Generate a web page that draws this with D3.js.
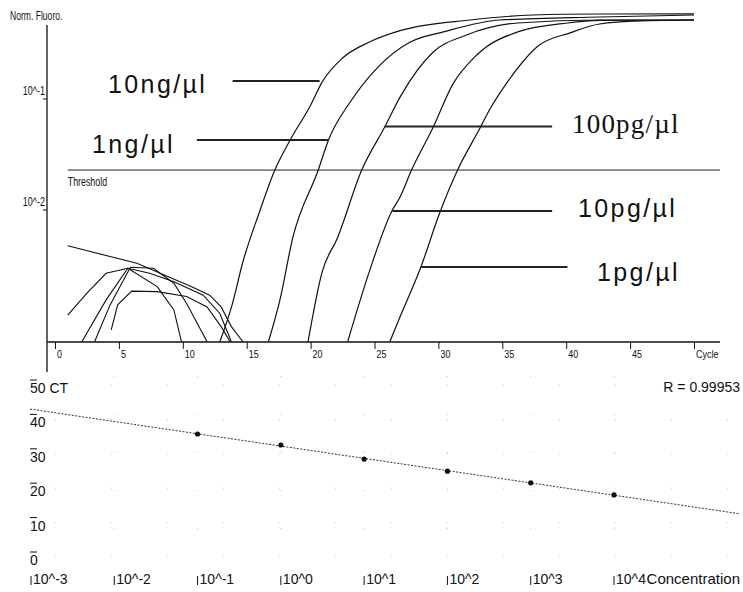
<!DOCTYPE html>
<html>
<head>
<meta charset="utf-8">
<script src="https://cdn.jsdelivr.net/npm/d3@7"></script>
<style>
  body { margin: 0; background: #fff; }
</style>
</head>
<body>
<svg id="chart"></svg>
<script>
// ---- amplification plot data: [cycle, normalised fluorescence] ----
var curve10ng = [[12.9, 0.00065], [13.85, 0.00139], [14.7, 0.0034], [16.0, 0.0096], [17.2, 0.0229],
    [18.4, 0.0427], [20.0, 0.088], [20.9, 0.142], [22.5, 0.234], [24.6, 0.326], [27.2, 0.419],
    [32.5, 0.515], [37.4, 0.571], [42.6, 0.583], [50, 0.585]];
var curve1ng = [[16.7, 0.00065], [17.6, 0.00155], [18.6, 0.0056], [20.6, 0.0229], [21.4, 0.0427],
    [23.1, 0.094], [25.2, 0.190], [27.8, 0.326], [30.4, 0.402], [34.8, 0.515], [42.6, 0.548], [50, 0.571]];
var curve100pg = [[19.8, 0.00065], [20.9, 0.00276], [22.1, 0.0056], [24.0, 0.0229], [25.8, 0.056],
    [27.0, 0.104], [29.6, 0.265], [32.2, 0.377], [36.2, 0.484], [42.6, 0.515], [50, 0.515]];
var curve10pg = [[22.9, 0.00065], [24.6, 0.0028], [26.4, 0.0100], [27.0, 0.0131], [27.9, 0.0229],
    [29.6, 0.056], [31.1, 0.134], [33.0, 0.249], [36.2, 0.402], [40.1, 0.484], [42.6, 0.510], [50, 0.515]];
var curve1pg = [[26.2, 0.00065], [27.0, 0.00109], [28.6, 0.0030], [30.1, 0.0094], [31.5, 0.0229],
    [33.3, 0.056], [34.0, 0.080], [35.4, 0.142], [37.9, 0.306], [40.3, 0.394], [42.6, 0.474],
    [45.8, 0.505], [50, 0.515]];

// early-cycle background traces
var noiseA = [[1.0, 0.00476], [6.4, 0.00331], [10.7, 0.00204], [12.1, 0.00171], [13.0, 0.00134], [13.8, 0.00089], [14.7, 0.00065]];
var noiseB = [[1.0, 0.00113], [2.5, 0.00178], [4.0, 0.00269], [5.7, 0.00299], [7.4, 0.00269], [9.3, 0.00226], [11.6, 0.00171], [12.9, 0.00117], [13.8, 0.00065]];
var noiseC = [[2.1, 0.00065], [4.0, 0.00155], [5.7, 0.00299], [8.0, 0.00204], [9.3, 0.00126], [9.9, 0.00065]];
var noiseD = [[3.1, 0.00065], [4.3, 0.00139], [5.9, 0.00305], [7.7, 0.00299], [9.3, 0.00219], [10.3, 0.00144], [11.9, 0.00065]];
var noiseE = [[4.4, 0.00083], [4.9, 0.00140], [6.0, 0.00186], [8.0, 0.00184], [10.3, 0.00166], [11.9, 0.00134], [13.0, 0.00089], [13.7, 0.00065]];

var curveNames = ['10ng/\u00b5l', '1ng/\u00b5l', '100pg/\u00b5l', '10pg/\u00b5l', '1pg/\u00b5l'];
var threshold = 0.0229;
var cycleTicks = [0, 5, 10, 15, 20, 25, 30, 35, 40, 45, 50];
var fluoroTicks = [0.1, 0.01];
var fluoroTickLabels = ['10^-1', '10^-2'];

// ---- standard curve data ----
var concentrations = [0.1, 1, 10, 100, 1000, 10000];
var ctValues = [34.3, 31.1, 27.0, 23.5, 20.1, 16.6];
var concTicks = [1e-3, 1e-2, 1e-1, 1, 10, 100, 1000, 10000];
var concTickLabels = ['10^-3', '10^-2', '10^-1', '10^0', '10^1', '10^2', '10^3', '10^4'];
var ctTicks = [0, 10, 20, 30, 40, 50];
var rValue = 0.99953;

var svg = d3.select('#chart')
    .attr('width', 743)
    .attr('height', 592)
    .style('background-color', '#fff');

var ink = '#111';
var narrow = 'Liberation Sans, Arial, sans-serif';

// condensed small text like the scanned instrument font
function smallText(g, px, py, txt, size, sx, anchor) {
    return g.append('text')
        .attr('transform', 'translate(' + px + ',' + py + ') scale(' + sx + ',1)')
        .attr('text-anchor', anchor || 'start')
        .style('font-family', narrow)
        .style('font-size', size + 'px')
        .attr('fill', ink)
        .text(txt);
}

// =============== top: amplification plot ===============
var x = d3.scaleLinear().domain([0, 50]).range([55, 694]);
var y = d3.scaleLog().domain([0.01, 0.1]).range([210, 99]);
var baseY = 342;

svg.append('defs').append('clipPath').attr('id', 'plotclip')
    .append('rect').attr('x', 47).attr('y', 0).attr('width', 680).attr('height', baseY);

// axes lines
svg.append('line').attr('x1', 47).attr('x2', 47).attr('y1', 25).attr('y2', 372)
    .attr('stroke', ink).attr('stroke-width', 1.3);
svg.append('line').attr('x1', 47).attr('x2', 720).attr('y1', baseY).attr('y2', baseY)
    .attr('stroke', ink).attr('stroke-width', 1.3);

var xAxis = svg.append('g')
    .attr('transform', 'translate(0,' + baseY + ')')
    .call(d3.axisBottom(x).tickValues(cycleTicks).tickSize(7)
        .tickFormat(function (d) { return d === 50 ? 'Cycle' : d; }));
xAxis.select('.domain').remove();
xAxis.selectAll('line').attr('stroke', ink);
xAxis.selectAll('text')
    .attr('x', null).attr('y', null).attr('dy', null)
    .attr('text-anchor', 'start')
    .attr('transform', 'translate(1.5,16) scale(0.78,1)')
    .attr('fill', ink)
    .style('font-family', narrow)
    .style('font-size', '11.5px');

fluoroTicks.forEach(function (v, i) {
    svg.append('line').attr('x1', 43).attr('x2', 47).attr('y1', y(v)).attr('y2', y(v))
        .attr('stroke', ink);
    smallText(svg, 45, y(v) - 4, fluoroTickLabels[i], 12, 0.75, 'end');
});

smallText(svg, 10, 20, 'Norm. Fluoro.', 13, 0.66);

// threshold
svg.append('line')
    .attr('x1', x(1)).attr('x2', 720)
    .attr('y1', y(threshold)).attr('y2', y(threshold))
    .attr('stroke', '#222').attr('stroke-width', 1);
smallText(svg, x(1), y(threshold) + 16, 'Threshold', 13, 0.68);

var plot = svg.append('g').attr('clip-path', 'url(#plotclip)');

var smooth = d3.line()
    .x(function (d) { return x(d[0]); })
    .y(function (d) { return y(d[1]); })
    .curve(d3.curveMonotoneX);
var straight = d3.line()
    .x(function (d) { return x(d[0]); })
    .y(function (d) { return y(d[1]); });

[noiseA, noiseB, noiseC, noiseD, noiseE].forEach(function (s) {
    plot.append('path').datum(s).attr('d', straight)
        .attr('fill', 'none').attr('stroke', ink).attr('stroke-width', 1.1);
});

[curve10ng, curve1ng, curve100pg, curve10pg, curve1pg].forEach(function (s) {
    plot.append('path').datum(s).attr('d', smooth)
        .attr('fill', 'none').attr('stroke', ink).attr('stroke-width', 1.2);
});

// leader lines + labels
var leaders = [
    { c0: 13.9, c1: 20.7, v: 0.145 },
    { c0: 11.1, c1: 21.4, v: 0.0427 },
    { c0: 25.8, c1: 38.9, v: 0.0565 },
    { c0: 26.4, c1: 38.9, v: 0.0098 },
    { c0: 28.6, c1: 40.1, v: 0.00306 }
];
leaders.forEach(function (d) {
    svg.append('line')
        .attr('x1', x(d.c0)).attr('x2', x(d.c1))
        .attr('y1', y(d.v)).attr('y2', y(d.v))
        .attr('stroke', '#222').attr('stroke-width', 2);
});

var labelSpots = [[108, 93, 'sans'], [92, 153, 'sans'], [572, 133, 'serif'], [578, 217, 'sans'], [597, 281, 'sans']];
curveNames.forEach(function (name, i) {
    var s = labelSpots[i];
    svg.append('text')
        .attr('x', s[0]).attr('y', s[1])
        .style('font-family', s[2] === 'serif' ? 'Liberation Serif, Times New Roman, serif' : 'Liberation Sans, Arial, sans-serif')
        .style('font-size', s[2] === 'serif' ? '27px' : '25px')
        .style('letter-spacing', s[2] === 'serif' ? '1.2px' : '2.4px')
        .attr('fill', ink)
        .text(name);
});

// =============== bottom: standard curve ===============
var cx = d3.scaleLog().domain([1e-3, 1e4]).range([31, 614]);
var cy = d3.scaleLinear().domain([0, 50]).range([552, 380]);
var bigFont = 'Liberation Sans, Arial, sans-serif';

// faint scanned grid specks
var grid = svg.append('g');
concTicks.forEach(function (v) {
    grid.append('line').attr('x1', cx(v)).attr('x2', cx(v)).attr('y1', 376).attr('y2', 560)
        .attr('stroke', '#c8c8c8').attr('stroke-width', 1).attr('stroke-dasharray', '1,37');
});
ctTicks.forEach(function (v) {
    grid.append('line').attr('x1', 55).attr('x2', 740).attr('y1', cy(v) + 5).attr('y2', cy(v) + 5)
        .attr('stroke', '#c8c8c8').attr('stroke-width', 1).attr('stroke-dasharray', '1,55');
});

ctTicks.forEach(function (v) {
    svg.append('line').attr('x1', 30).attr('x2', 37).attr('y1', cy(v)).attr('y2', cy(v))
        .attr('stroke', ink).attr('stroke-width', 1);
    svg.append('text')
        .attr('x', 30).attr('y', cy(v) + 13)
        .style('font-family', bigFont).style('font-size', '14px')
        .attr('fill', ink)
        .text(v === 50 ? '50 CT' : v);
});

concTicks.forEach(function (v, i) {
    svg.append('line').attr('x1', cx(v)).attr('x2', cx(v)).attr('y1', 576).attr('y2', 585)
        .attr('stroke', ink).attr('stroke-width', 1);
    svg.append('text')
        .attr('x', cx(v) + 2).attr('y', 584)
        .style('font-family', bigFont).style('font-size', '14px')
        .attr('fill', ink)
        .text(concTickLabels[i]);
});

svg.append('text')
    .attr('x', 740).attr('y', 584).attr('text-anchor', 'end')
    .style('font-family', bigFont).style('font-size', '15px')
    .style('paint-order', 'stroke').attr('stroke', '#fff').attr('stroke-width', 2)
    .attr('fill', ink)
    .text('Concentration');

svg.append('text')
    .attr('x', 740).attr('y', 392).attr('text-anchor', 'end')
    .style('font-family', bigFont).style('font-size', '14px')
    .attr('fill', ink)
    .text('R = ' + rValue);

// least-squares line through the standards
var logs = concentrations.map(function (c) { return Math.log10(c); });
var mx = d3.mean(logs), my = d3.mean(ctValues);
var sxy = d3.sum(logs, function (l, i) { return (l - mx) * (ctValues[i] - my); });
var sxx = d3.sum(logs, function (l) { return (l - mx) * (l - mx); });
var slope = sxy / sxx, intercept = my - slope * mx;
var fitEnds = [Math.pow(10, -3.01), Math.pow(10, 5.51)];

svg.append('path')
    .datum(fitEnds)
    .attr('d', d3.line()
        .x(function (c) { return cx(c); })
        .y(function (c) { return cy(intercept + slope * Math.log10(c)); }))
    .attr('fill', 'none')
    .attr('stroke', '#333')
    .attr('stroke-width', 1)
    .attr('stroke-dasharray', '2,1.5');

svg.append('g')
    .selectAll('circle')
    .data(concentrations)
    .enter()
    .append('circle')
    .attr('cx', function (c) { return cx(c); })
    .attr('cy', function (c, i) { return cy(ctValues[i]); })
    .attr('r', 2.6)
    .attr('fill', ink);
</script>
</body>
</html>
